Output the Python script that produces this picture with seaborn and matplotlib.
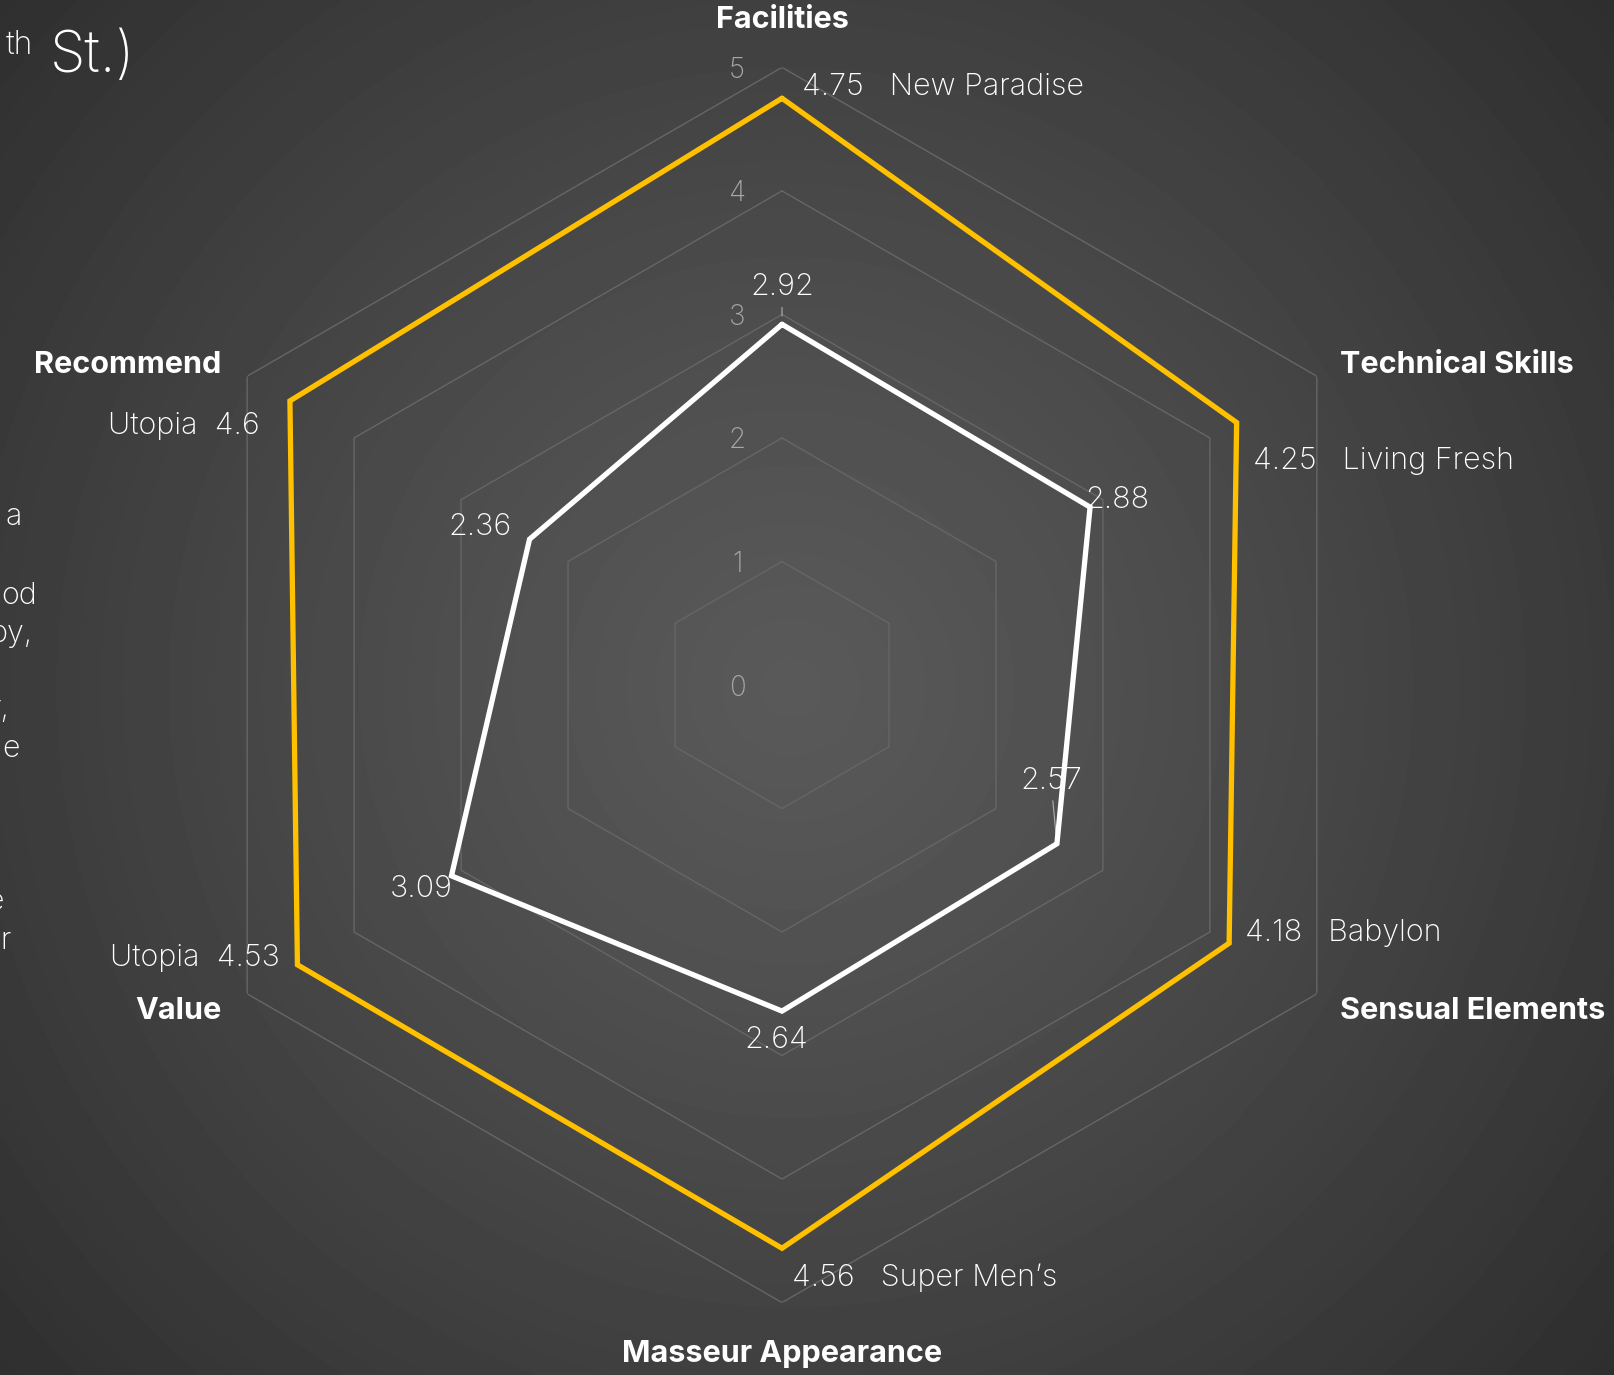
"""
Radar chart: best-in-class spa scores vs. target spa, dark slide style.
"""
import matplotlib
import matplotlib.pyplot as plt
import numpy as np
import pandas as pd
import seaborn as sns

matplotlib.use("Agg")

categories = ["Facilities", "Technical Skills", "Sensual Elements",
              "Masseur Appearance", "Value", "Recommend"]
best_scores = [4.75, 4.25, 4.18, 4.56, 4.53, 4.6]
best_spas = ["New Paradise", "Living Fresh", "Babylon", "Super Men\u2019s", "Utopia", "Utopia"]
target_scores = [2.92, 2.88, 2.57, 2.64, 3.09, 2.36]
radial_ticks = [0, 1, 2, 3, 4, 5]

# fragments of the slide text box cut off at the left edge
side_fragments = ["a", "od", "py,", "r,", "e", "e", "ur"]

W, H = 1614, 1375
YELLOW = "#FFC000"
GRID = "#666666"
DY = -3  # small downward nudge for all labels (px)

sns.set_theme(style="dark")
plt.rcParams["font.family"] = ["Inter", "DejaVu Sans"]

fig = plt.figure(figsize=(W / 100, H / 100), dpi=100)

# radial-ish gradient background
ax_bg = fig.add_axes([0, 0, 1, 1])
yy, xx = np.mgrid[0:1:400j, 0:1:470j]
dist = np.sqrt(((xx - 0.49) * 1.17) ** 2 + (yy - 0.50) ** 2)
shade = 0.35 - 0.17 * np.clip(dist / 0.78, 0, 1) ** 1.2
ax_bg.imshow(shade, cmap="gray", vmin=0, vmax=1, aspect="auto",
             extent=[0, 1, 0, 1], interpolation="bicubic")
ax_bg.axis("off")

# polar axes: center (782, 685) px, radius ~617.6 px
cx, cy, rad = 782, 685, 617.6
ax = fig.add_axes([(cx - rad) / W, (H - cy - rad) / H, 2 * rad / W, 2 * rad / H],
                  projection="polar")
ax.set_facecolor("none")
ax.set_theta_zero_location("N")
ax.set_theta_direction(-1)
ax.set_ylim(0, 5)
ax.grid(False)
ax.spines["polar"].set_visible(False)
ax.set_xticks([])
ax.set_yticks([])

n = len(categories)
angles = list(np.arange(n) * 2 * np.pi / n)
closed = angles + [2 * np.pi]

for lvl in radial_ticks[1:]:
    ax.plot(closed, [lvl] * (n + 1), color=GRID, lw=1.0, zorder=1)
for lvl in radial_ticks:
    ax.annotate(str(lvl), (0, lvl), xytext=(-45, DY), textcoords="offset pixels",
                ha="center", va="center", fontsize=20, fontweight="light",
                color="#a8a8a8", zorder=2)

df = pd.DataFrame({
    "angle": closed * 2,
    "score": best_scores + best_scores[:1] + target_scores + target_scores[:1],
    "series": ["best"] * (n + 1) + ["target"] * (n + 1),
})
sns.lineplot(data=df, x="angle", y="score", hue="series",
             palette={"best": YELLOW, "target": "white"},
             sort=False, estimator=None, legend=False, linewidth=3.8,
             solid_joinstyle="miter", ax=ax, zorder=4)
ax.set_xlabel("")
ax.set_ylabel("")
ax.set_ylim(0, 5)

txt = dict(color="white", fontsize=22, annotation_clip=False, textcoords="offset pixels")

# category labels
cat_offsets = [(0, 50), (23, 14), (23, -14), (0, -48), (-26, -14), (-26, 14)]
cat_ha = ["center", "left", "left", "center", "right", "right"]
for a, name, (ox, oy), ha in zip(angles, categories, cat_offsets, cat_ha):
    ax.annotate(name, (a, 5), xytext=(ox, oy + DY), ha=ha, va="center",
                fontweight="bold", **txt)

# best-in-class labels
best_offsets = [(20, 14), (16, -35), (16, 13), (10, -26), (-18, 10), (-30, -22)]
for a, v, spa, (ox, oy) in zip(angles, best_scores, best_spas, best_offsets):
    if ox > 0:
        label, ha = f"{v:g}   {spa}", "left"
    else:
        label, ha = f"{spa}  {v:g}", "right"
    ax.annotate(label, (a, v), xytext=(ox, oy + DY), ha=ha, va="center",
                fontweight="light", **txt)

# target spa labels
target_offsets = [(0, 40), (27, 10), (-6, 66), (-6, -26), (-30, -10), (-50, 15)]
leader = [True, False, True, False, False, False]
for a, v, (ox, oy), ld in zip(angles, target_scores, target_offsets, leader):
    arrow = dict(arrowstyle="-", color="#b0b0b0", lw=0.8, shrinkA=2, shrinkB=6) if ld else None
    ax.annotate(f"{v:g}", (a, v), xytext=(ox, oy + DY), ha="center", va="center",
                fontweight="light", arrowprops=arrow, **txt)

# cut-off slide text on the left
fig.text(33 / W, 1 - 54 / H, "th", ha="right", va="baseline", fontsize=23,
         fontweight="light", color="white")
fig.text(50 / W, 1 - 72 / H, "St.)", ha="left", va="baseline", fontsize=41,
         fontweight="light", color="white")
frag_right = [22, 37, 33, 9, 20, 4, 12]
frag_y = [517, 596, 634, 709, 749, 902, 941]
for s, xr, yv in zip(side_fragments, frag_right, frag_y):
    fig.text(xr / W, 1 - yv / H, s, ha="right", va="center", fontsize=22,
             fontweight="light", color="white")

fig.savefig("out.png", dpi=100)
plt.close(fig)
